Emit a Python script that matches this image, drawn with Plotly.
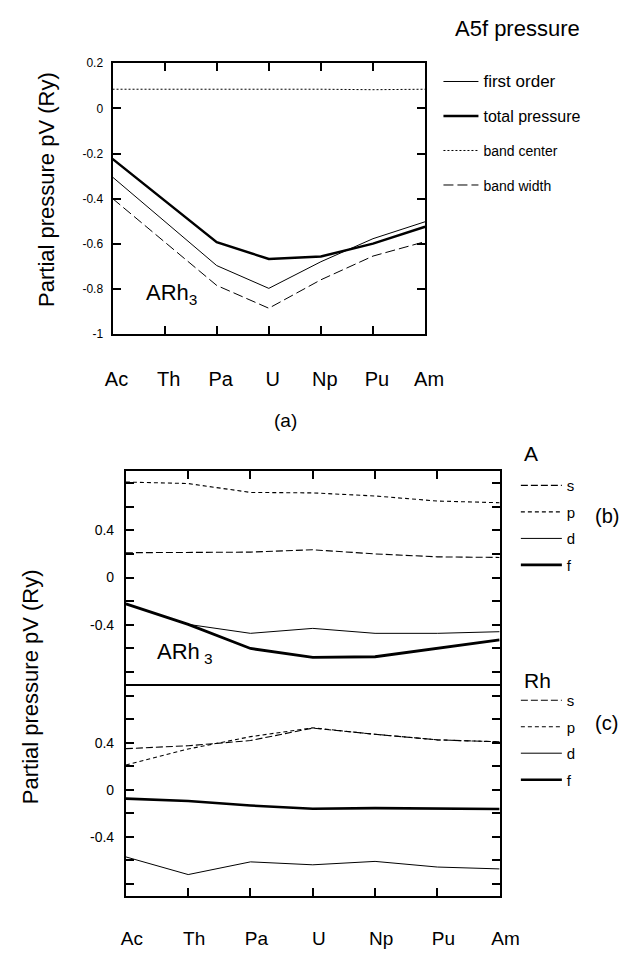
import plotly.graph_objects as go

# The page body keeps the browser's default 8px margin, so the figure is
# drawn 8px smaller and every target position is mapped back by 8px.
OFF = 8
W, H = 641 - OFF, 953 - OFF
FONT = "Liberation Sans, Arial, Helvetica, sans-serif"

elements = ["Ac", "Th", "Pa", "U", "Np", "Pu", "Am"]

# (a) A5f pressure
first_order = [-0.304, -0.50, -0.696, -0.797, -0.679, -0.577, -0.502]
total_pressure = [-0.224, -0.406, -0.592, -0.667, -0.656, -0.599, -0.524]
band_center = [0.085, 0.085, 0.088, 0.088, 0.085, 0.083, 0.085]
band_width = [-0.399, -0.592, -0.784, -0.885, -0.759, -0.654, -0.590]

# (b) A partial pressures
A_s = [0.21, 0.21, 0.215, 0.235, 0.20, 0.175, 0.17]
A_p = [0.808, 0.795, 0.72, 0.716, 0.69, 0.647, 0.633]
A_d = [-0.223, -0.396, -0.472, -0.43, -0.472, -0.472, -0.458]
A_f = [-0.223, -0.396, -0.60, -0.675, -0.67, -0.60, -0.527]

# (c) Rh partial pressures
Rh_s = [0.35, 0.375, 0.419, 0.525, 0.472, 0.425, 0.408]
Rh_p = [0.211, 0.347, 0.452, 0.527, 0.472, 0.425, 0.408]
Rh_d = [-0.57, -0.72, -0.612, -0.637, -0.608, -0.656, -0.672]
Rh_f = [-0.075, -0.095, -0.133, -0.16, -0.155, -0.158, -0.163]

top_ticks = [-1, -0.8, -0.6, -0.4, -0.2, 0, 0.2]
top_ticktext = ["-1", "-0.8", "-0.6", "-0.4", "-0.2", "0", "0.2"]
bot_ticks = [-0.8, -0.6, -0.4, -0.2, 0, 0.2, 0.4, 0.6, 0.8]
bot_ticktext = ["", "", "-0.4", "", "0", "", "0.4", "", ""]

fig = go.Figure()

def add(y, name, width, dash, xa, ya, legend, group):
    fig.add_trace(go.Scatter(
        x=elements, y=y, name=name, mode="lines",
        line=dict(color="black", width=width, dash=dash),
        xaxis=xa, yaxis=ya, legend=legend, legendgroup=group,
        hoverinfo="skip"))

def sized(text, size):
    return "<span style='font-size:%dpx'>%s</span>" % (size, text)

add(first_order, sized("first order", 17), 1, "solid", "x", "y", "legend", "a1")
add(total_pressure, sized("total pressure", 16), 2.4, "solid", "x", "y", "legend", "a2")
add(band_center, sized("band center", 14), 1, "2px,2px", "x", "y", "legend", "a3")
add(band_width, sized("band width", 14), 1, "10px,4px", "x", "y", "legend", "a4")

add(A_s, "s", 1.1, "7px,3px", "x2", "y2", "legend2", "b1")
add(A_p, "p", 1.1, "4px,3px", "x2", "y2", "legend2", "b2")
add(A_d, "d", 1, "solid", "x2", "y2", "legend2", "b3")
add(A_f, "f", 2.8, "solid", "x2", "y2", "legend2", "b4")

add(Rh_s, "s", 1.1, "7px,3px", "x3", "y3", "legend3", "c1")
add(Rh_p, "p", 1.1, "4px,3px", "x3", "y3", "legend3", "c2")
add(Rh_d, "d", 1, "solid", "x3", "y3", "legend3", "c3")
add(Rh_f, "f", 2.6, "solid", "x3", "y3", "legend3", "c4")

def px(x):
    return (x - OFF) / W

def py(y):
    return 1 - (y - OFF) / H

axis_common = dict(showgrid=False, zeroline=False, showline=True,
                   linecolor="black", linewidth=2, ticks="inside",
                   tickcolor="black", tickwidth=1.5, ticklen=8)

fig.update_layout(
    width=W, height=H,
    margin=dict(l=0, r=0, t=0, b=0),
    paper_bgcolor="white", plot_bgcolor="white",
    font=dict(family=FONT, color="black"),
    xaxis=dict(**axis_common, domain=[px(109), px(436)], anchor="y",
               type="category", range=[0, 6], mirror="ticks",
               tickfont=dict(size=20), ticklabelstandoff=26,
               ticklabelshift=4),
    yaxis=dict(**axis_common, domain=[py(332), py(57)], anchor="x",
               range=[-1, 0.2], tickvals=top_ticks, ticktext=top_ticktext,
               mirror="ticks", tickfont=dict(size=12), ticklabelstandoff=5),
    xaxis2=dict(**axis_common, domain=[px(123), px(514)], anchor="y2",
                type="category", range=[0, 6], side="top", mirror=True,
                showticklabels=False),
    yaxis2=dict(**axis_common, domain=[py(687), py(471)], anchor="x2",
                range=[-0.9, 0.9], tickvals=bot_ticks, ticktext=bot_ticktext,
                mirror="ticks", tickfont=dict(size=14), ticklabelstandoff=7),
    xaxis3=dict(**axis_common, domain=[px(123), px(514)], anchor="y3",
                type="category", range=[0, 6], side="bottom", mirror=False,
                tickfont=dict(size=19), ticklabelstandoff=24,
                ticklabelshift=6),
    yaxis3=dict(**axis_common, domain=[py(902), py(687)], anchor="x3",
                range=[-0.9, 0.9], tickvals=bot_ticks, ticktext=bot_ticktext,
                mirror="ticks", tickfont=dict(size=14), ticklabelstandoff=7),
    legend=dict(x=px(450), y=py(59), xanchor="left", yanchor="top",
                font=dict(size=15), tracegroupgap=12, bgcolor="rgba(0,0,0,0)",
                itemwidth=35),
    legend2=dict(x=px(531), y=py(469), xanchor="left", yanchor="top",
                 font=dict(size=15), tracegroupgap=4, bgcolor="rgba(0,0,0,0)",
                 itemwidth=41),
    legend3=dict(x=px(531), y=py(687), xanchor="left", yanchor="top",
                 font=dict(size=15), tracegroupgap=4, bgcolor="rgba(0,0,0,0)",
                 itemwidth=41),
    showlegend=True,
)

def note(text, x, y, size, angle=0, xanchor="center"):
    fig.add_annotation(text=text, x=px(x), y=py(y), xref="paper", yref="paper",
                       showarrow=False, font=dict(size=size, family=FONT, color="black"),
                       textangle=angle, xanchor=xanchor, yanchor="middle")

note("A5f pressure", 465, 22, 22, xanchor="left")
note("Partial pressure pV (Ry)", 40, 185, 22, angle=-90)
note("Partial pressure pV (Ry)", 24, 690, 22, angle=-90)
note("ARh<sub>3</sub>", 142, 291, 22, xanchor="left")
note("ARh<sub> 3</sub>", 153, 656, 22, xanchor="left")
note("(a)", 290, 420, 19)
note("A", 537, 453, 21, xanchor="left")
note("Rh", 537, 683, 21, xanchor="left")
note("(b)", 626, 517, 20)
note("(c)", 626, 727, 20)

fig.write_html("out.html")
